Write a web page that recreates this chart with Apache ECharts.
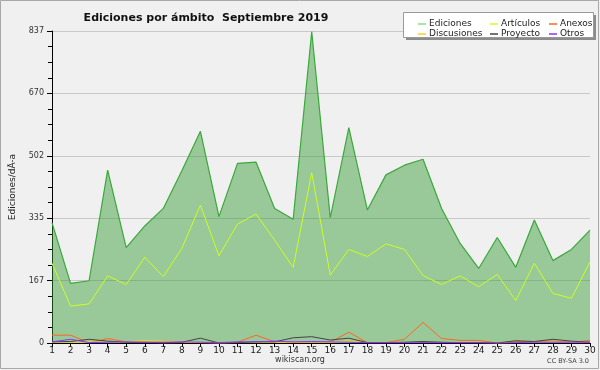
<!DOCTYPE html>
<html><head><meta charset="utf-8">
<script src="https://cdn.jsdelivr.net/npm/echarts@6/dist/echarts.min.js"></script>
<style>html,body{margin:0;padding:0;background:#f0f0f0}#c{width:600px;height:370px}</style>
</head><body><div id="c"></div>
<script>
const days = Array.from({length:30},(_,i)=>String(i+1));
const ediciones = [323,160,167,464,256,314,361,462,568,339,482,485,361,332,835,336,578,357,451,477,493,361,267,200,283,203,330,221,251,303];
const articulos = [214,99,105,180,157,230,178,254,370,234,319,346,276,203,457,182,251,232,266,251,181,157,180,151,184,114,214,133,120,218];
const anexos = [21,21,0,12,3,2,0,1,1,0,2,21,3,2,3,2,29,1,1,10,55,12,7,7,0,4,4,5,2,7];
const discusiones = [2,2,3,2,3,7,5,3,1,0,1,1,2,2,3,2,6,1,1,1,2,1,1,1,0,1,1,3,1,1];
const proyecto = [3,4,10,5,2,1,1,2,13,0,1,3,3,14,17,8,13,1,1,2,4,2,1,1,0,6,4,10,5,2];
const otros = [3,10,1,2,3,2,2,3,2,1,3,3,5,3,4,3,2,1,1,1,1,1,1,1,0,1,2,2,2,2];
const yMax = 837;

const F = 'DejaVu Sans';
const chart = echarts.init(document.getElementById('c'), null, {renderer:'canvas'});
function ln(name, data, color, w){
  return {name, type:'line', data, showSymbol:false, symbol:'none', lineStyle:{color, width:w||1}, itemStyle:{color}, animation:false, z:3};
}
const legBase = {orient:'vertical', icon:'rect', itemWidth:8, itemHeight:1.5, itemGap:0, top:14, z:10,
  textStyle:{fontFamily:F, fontSize:9, color:'#222', lineHeight:10, padding:[0,0,0,-2]}, selectedMode:false};
chart.setOption({
  backgroundColor:'#f0f0f0',
  animation:false,
  title:{text:'Ediciones por ámbito  Septiembre 2019', left:201, top:8, textAlign:'center',
    textStyle:{fontFamily:F, fontSize:11, fontWeight:'bold', color:'#111'}},
  grid:{left:47, right:10, top:31, bottom:27},
  xAxis:{type:'category', data:days, boundaryGap:false,
    axisLine:{lineStyle:{color:'#000', width:1}},
    axisTick:{show:true, length:4, lineStyle:{color:'#000'}, alignWithLabel:true},
    axisLabel:{fontFamily:F, fontSize:9, color:'#222', margin:3, interval:0}},
  yAxis:{type:'value', min:0, max:yMax, interval:yMax/5,
    name:'Ediciones/dÃ-a', nameLocation:'middle', nameGap:35,
    nameTextStyle:{fontFamily:F, fontSize:9, color:'#222'},
    axisLine:{show:true, lineStyle:{color:'#000'}},
    axisTick:{show:true, length:5, lineStyle:{color:'#000'}},
    minorTick:{show:true, splitNumber:4, length:4, lineStyle:{color:'#000'}},
    axisLabel:{fontFamily:F, fontSize:8, color:'#333', margin:8, formatter:v=>Math.round(v)},
    splitLine:{show:true, lineStyle:{color:'#c8c8c8', width:1}}},
  legend:[
    Object.assign({}, legBase, {left:413, data:[{name:'Ediciones', itemStyle:{color:'#88dd88'}}, 'Discusiones']}),
    Object.assign({}, legBase, {left:485, data:['Artículos','Proyecto']}),
    Object.assign({}, legBase, {left:544, data:['Anexos','Otros']})
  ],
  graphic:[
    {type:'rect', shape:{x:0.5,y:0.5,width:598,height:368}, style:{fill:null, stroke:'#a8a8a8', lineWidth:1}, z:0},
    {type:'rect', shape:{x:406,y:15,width:190,height:25}, style:{fill:'#8c8c8c'}, z:0},
    {type:'rect', shape:{x:403.5,y:12.5,width:190,height:25}, style:{fill:'#ffffff', stroke:'#9a9a9a', lineWidth:1}, z:1},
    {type:'text', left:'center', top:356, style:{text:'wikiscan.org', fontFamily:F, fontSize:8, fill:'#333'}, z:1},
    {type:'text', right:11, top:358, style:{text:'CC BY-SA 3.0', fontFamily:F, fontSize:6.5, fill:'#444'}, z:1}
  ],
  series:[
    Object.assign(ln('Ediciones', ediciones, '#3aa83a', 1.2), {areaStyle:{color:'#339933', opacity:0.46}, z:2}),
    ln('Artículos', articulos, '#ccff22'),
    ln('Anexos', anexos, '#ff6622'),
    ln('Discusiones', discusiones, '#ffcc22'),
    ln('Proyecto', proyecto, '#444444'),
    ln('Otros', otros, '#8833ff')
  ]
});
</script></body></html>
